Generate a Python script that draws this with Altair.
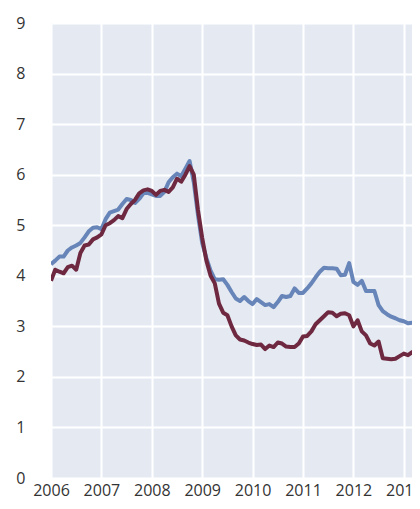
import altair as alt
import pandas as pd

start_year = 2006
blue = [4.23, 4.30, 4.38, 4.38, 4.50, 4.56, 4.60, 4.65, 4.76, 4.88, 4.95, 4.96,
        4.92, 5.12, 5.25, 5.28, 5.31, 5.42, 5.52, 5.50, 5.44, 5.52, 5.63, 5.64,
        5.61, 5.58, 5.58, 5.66, 5.85, 5.95, 6.02, 5.97, 6.12, 6.27, 5.85, 5.20,
        4.65, 4.35, 4.10, 3.93, 3.92, 3.93, 3.82, 3.68, 3.55, 3.50, 3.58, 3.50,
        3.44, 3.54, 3.48, 3.42, 3.44, 3.38, 3.48, 3.60, 3.58, 3.60, 3.75, 3.66,
        3.66, 3.75, 3.85, 3.97, 4.08, 4.16, 4.15, 4.15, 4.14, 4.01, 4.02, 4.25,
        3.88, 3.82, 3.90, 3.70, 3.70, 3.70, 3.42, 3.30, 3.24, 3.19, 3.16, 3.12,
        3.10, 3.06, 3.07, 3.06, 3.06]
maroon = [3.90, 4.12, 4.08, 4.05, 4.17, 4.20, 4.12, 4.45, 4.60, 4.62, 4.72, 4.76,
          4.82, 5.00, 5.04, 5.10, 5.18, 5.14, 5.32, 5.42, 5.50, 5.63, 5.69, 5.71,
          5.68, 5.60, 5.68, 5.70, 5.66, 5.75, 5.92, 5.86, 6.00, 6.17, 6.00, 5.30,
          4.75, 4.30, 4.00, 3.85, 3.45, 3.27, 3.22, 3.00, 2.82, 2.74, 2.72, 2.68,
          2.65, 2.63, 2.64, 2.55, 2.62, 2.59, 2.68, 2.66, 2.60, 2.59, 2.59, 2.66,
          2.80, 2.81, 2.90, 3.04, 3.12, 3.20, 3.28, 3.27, 3.20, 3.25, 3.26, 3.22,
          3.00, 3.12, 2.90, 2.82, 2.66, 2.62, 2.70, 2.37, 2.36, 2.35, 2.36, 2.41,
          2.46, 2.43, 2.49, 2.44, 2.47]
series_names = ["A", "B"]
year_ticks = [2006, 2007, 2008, 2009, 2010, 2011, 2012, 2013]
y_ticks = [0, 1, 2, 3, 4, 5, 6, 7, 8, 9]

rows = []
for name, vals in zip(series_names, [blue, maroon]):
    for i, v in enumerate(vals):
        rows.append({"t": start_year + i / 12.0, "v": v, "s": name})
df = pd.DataFrame(rows)

chart = alt.Chart(df).mark_line(strokeWidth=4, clip=True, strokeJoin="round").encode(
    x=alt.X("t:Q", scale=alt.Scale(domain=[2006, 2013.163], nice=False, zero=False),
            axis=alt.Axis(values=year_ticks, format="d", title=None, ticks=False,
                          domain=False, labelPadding=4, labelFlush=False)),
    y=alt.Y("v:Q", scale=alt.Scale(domain=[0, 9], nice=False),
            axis=alt.Axis(values=y_ticks, title=None, ticks=False, domain=False,
                          labelPadding=26)),
    color=alt.Color("s:N", scale=alt.Scale(domain=series_names,
                                           range=["#6785b8", "#6e2840"]), legend=None),
    order=alt.Order("s:N"),
).properties(
    width=361, height=455,
    autosize=alt.AutoSizeParams(type="none"),
    padding={"left": 43, "top": 15, "right": 0, "bottom": 23},
).configure_view(
    fill="#e5eaf2", stroke=None
).configure_axis(
    gridColor="white", gridWidth=2, labelFont="Open Sans", labelFontSize=16,
    labelColor="#333333"
)

chart.save("out.html", embed_options={"renderer": "svg", "actions": False})
